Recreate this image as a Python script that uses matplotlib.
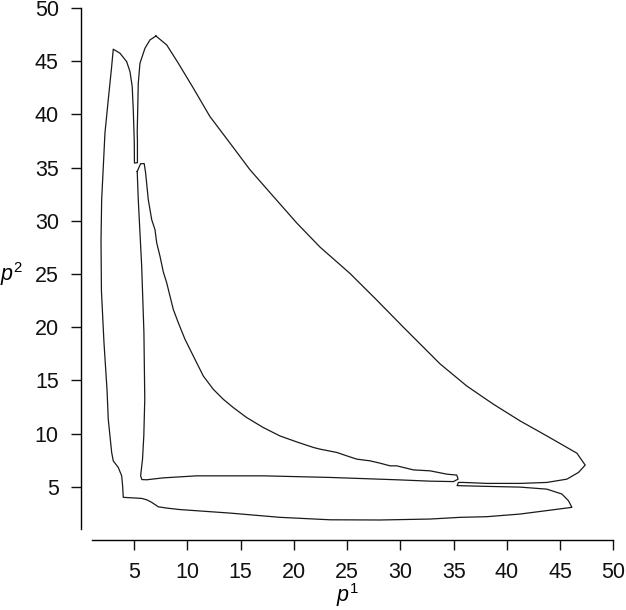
import matplotlib
matplotlib.use("Agg")
import matplotlib.pyplot as plt

plt.rcParams["font.family"] = ["Liberation Sans", "DejaVu Sans"]
plt.rcParams["mathtext.fontset"] = "custom"
plt.rcParams["mathtext.it"] = "Liberation Sans:italic"
plt.rcParams["mathtext.rm"] = "Liberation Sans"

# outer boundary, traced clockwise from the top of the big lobe
OUTER_P1 = [
    7.04, 8.05, 9.14, 10.55, 12.11, 13.99, 15.87, 18.06, 20.26, 22.45, 25.27,
    27.78, 30.28, 33.73, 36.24, 38.74, 41.25, 43.76, 46.58, 47.36,
    46.73, 45.64, 43.76, 41.25, 38.12, 35.92, 35.45, 35.33,
    38.12, 41.25, 43.76, 45.17, 45.79, 46.11,
    44.35, 41.25, 38.12, 35.61, 32.79, 28.09, 23.39, 18.69, 13.99, 9.30,
    8.05, 7.26, 6.64, 6.17, 5.70, 3.97,
    3.91, 3.82, 3.50, 3.03, 2.88, 2.56, 2.45, 2.15, 1.92, 1.88, 1.94, 2.12,
    2.25, 2.56, 2.88, 3.03,
    3.66, 4.29, 4.60, 4.81, 4.91, 5.00, 5.02, 5.30,
    5.30, 5.28, 5.38, 5.54, 6.01, 6.48, 7.04,
]
OUTER_P2 = [
    47.37, 46.53, 44.81, 42.47, 39.80, 37.31, 34.80, 32.30, 29.80, 27.53, 25.05,
    22.55, 20.0, 16.55, 14.47, 12.76, 11.19, 9.78, 8.16, 7.04,
    6.35, 5.72, 5.41, 5.32, 5.32, 5.41, 5.41, 5.11,
    5.04, 4.97, 4.78, 4.32, 3.69, 3.07,
    2.84, 2.44, 2.19, 2.13, 1.97, 1.88, 1.90, 2.13, 2.53, 2.86,
    3.00, 3.12, 3.54, 3.78, 3.91, 4.01,
    5.09, 6.03, 6.82, 7.44, 8.23, 11.35, 14.0, 18.7, 23.4, 28.1, 31.97, 35.6,
    38.25, 41.37, 44.5, 46.13,
    45.75, 44.96, 44.02, 42.62, 40.43, 37.6, 35.43, 35.46,
    37.62, 38.27, 42.94, 44.81, 46.22, 47.0, 47.37,
]

# inner hole
HOLE_P1 = [
    5.28, 5.60, 5.94, 6.07, 6.32, 6.64, 6.95, 7.11, 7.42, 7.73, 8.05, 8.67,
    9.14, 9.77, 10.55, 11.49, 12.42, 13.36, 14.30, 15.56, 17.12, 18.69, 20.26,
    21.82, 22.45, 24.02, 24.96, 25.90, 27.15, 28.09, 29.03, 29.66, 31.22,
    32.79, 34.36, 35.30, 35.42,
    34.98, 32.79, 29.66, 23.39, 17.12, 10.86, 7.73, 6.17, 5.72, 5.60,
    5.78, 5.90, 5.99, 5.91, 5.70, 5.38, 5.28,
]
HOLE_P2 = [
    34.64, 35.37, 35.37, 34.49, 31.99, 30.11, 29.17, 27.93, 26.67, 25.2,
    24.17, 21.67, 20.42, 18.86, 17.29, 15.41, 14.17, 13.23, 12.45, 11.51,
    10.57, 9.78, 9.22, 8.70, 8.54, 8.23, 7.91, 7.60, 7.44, 7.22, 6.97, 6.97,
    6.59, 6.50, 6.19, 6.10, 5.72,
    5.49, 5.53, 5.66, 5.88, 6.03, 6.03, 5.84, 5.66, 5.68, 6.03,
    7.6, 9.8, 13.23, 19.48, 25.73, 31.99, 34.64,
]

TICKS = [5, 10, 15, 20, 25, 30, 35, 40, 45, 50]

fig = plt.figure(figsize=(6.26, 6.10), dpi=100)
ax = fig.add_axes([81 / 626, 70 / 610, 532.3 / 626, 532 / 610])

ax.plot(OUTER_P1, OUTER_P2, color="#1a1a1a", lw=0.9)
ax.plot(HOLE_P1, HOLE_P2, color="#1a1a1a", lw=0.9)

ax.set_xlim(0, 50)
ax.set_ylim(0, 50)
ax.set_xticks(TICKS)
ax.set_yticks(TICKS)
for side in ("top", "right"):
    ax.spines[side].set_visible(False)
for side in ("left", "bottom"):
    ax.spines[side].set_bounds(1, 50)
    ax.spines[side].set_linewidth(1.0)
ax.tick_params(direction="out", length=7.5, width=1.0, pad=8.5,
               labelsize=15.5, colors="#111111")

ax.set_xlabel("$p^1$", fontsize=15.5, va="top")
ax.xaxis.set_label_coords(0.5, -0.078)
ax.set_ylabel("$p^2$", fontsize=15.5, rotation=0, va="center", ha="center")
ax.yaxis.set_label_coords(-0.13, 0.5)

fig.savefig("out.png", dpi=100, facecolor="white")
